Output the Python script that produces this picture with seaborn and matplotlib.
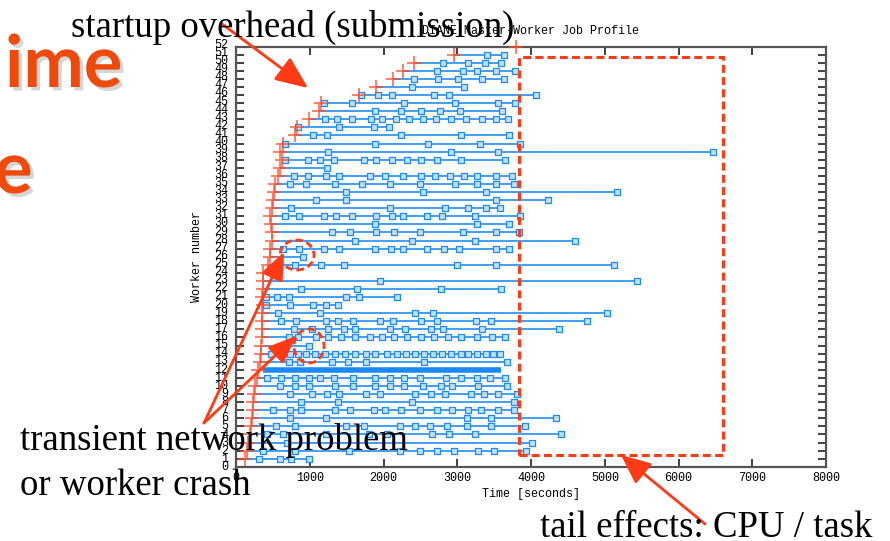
import matplotlib
matplotlib.use("Agg")
import matplotlib.pyplot as plt
import matplotlib.patheffects as pe
from matplotlib.patches import FancyArrowPatch, Ellipse, Rectangle
import numpy as np
import pandas as pd
import seaborn as sns

# ---------------- data (seconds) ----------------
# start time of each worker, rows 0..51 from bottom to top
start_times = [122, 145, 168, 190, 200, 213, 227, 236, 245, 259,
               281, 304, 327, 340, 340, 358, 358, 358, 358, 372,
               358, 372, 372, 372, 431, 463, 463, 485, 485, 476,
               463, 494, 508, 522, 531, 567, 590, 621, 600, 635,
               794, 825, 993, 1120, 1152, 1664, 1900, 2127, 2263, 2413,
               2957, 3796]

# task completion times per worker
w00 = [317, 590, 748, 993]
w01 = [363, 803, 1528, 2222, 2494, 2730, 2957, 3283, 3492, 3932]
w02 = [689, 4014]
w03 = [417, 644, 1220, 1800, 2050, 2662, 2889, 3243, 4408]
w04 = [540, 794, 1497, 1733, 2222, 2426, 2630, 2857, 3138, 3456, 3923]
w05 = [735, 1224, 3138, 3456, 4340]
w06 = [508, 735, 884, 1347, 1551, 1868, 2027, 2231, 2494, 2721, 2934, 3147, 3320, 3546, 3773]
w07 = [884, 1383, 2390, 3773]
w08 = [735, 1029, 1234, 1392, 1769, 1950, 2426, 2639, 2830, 3183, 3365, 3546, 3810]
w09 = [599, 794, 984, 1338, 1587, 1882, 2086, 2277, 2540, 2775, 2934, 3288, 3673]
w10 = [417, 612, 794, 984, 1143, 1324, 1587, 1882, 2086, 2277, 2494, 2843, 3048, 3274, 3447, 3646]
w11 = []
w11_dense_band = [372, 3592]
w12 = [712, 870, 1302, 1519, 1764, 2549, 3680]
w13 = [476, 599, 726, 839, 952, 1075, 1211, 1338, 1474, 1610, 1769, 1891, 2050, 2177, 2299,
       2422, 2549, 2676, 2798, 2921, 3048, 3152, 3274, 3388, 3478, 3583]
w14 = [993]
w15 = [712, 839, 1088, 1247, 1429, 1619, 1814, 1973, 2141, 2313, 2513, 2685, 2875, 3048, 3274, 3465, 3646]
w16 = [780, 1029, 1247, 1460, 1619, 2086, 2286, 2639, 2807, 3329, 4377]
w17 = [612, 816, 1220, 1383, 1583, 1950, 2127, 2513, 2730, 3261, 3456, 4762]
w18 = [576, 1134, 2422, 2671, 5029]
w19 = [404, 735, 1043, 1220, 1383]
w20 = [404, 553, 712, 1497, 1664, 2186]
w21 = [884, 1642, 2775, 3592]
w22 = [1950, 5437]
w23 = []
w24 = [803, 1152, 1460, 3002, 3524, 5120]
w25 = [907]
w26 = [635, 848, 1197, 1401, 1882, 2095, 2263, 2585, 2821, 3025, 3524, 3696]
w27 = [1619, 2381, 3243, 4603]
w28 = [1302, 1542, 1900, 2141, 2494, 3084, 3524, 3842]
w29 = [1882, 3274, 3696]
w30 = [658, 848, 1197, 1361, 1574, 1900, 2109, 2263, 2585, 2798, 3243, 3855]
w31 = [744, 2086, 2834, 3147, 3388, 3583]
w32 = [1084, 1492, 3524, 4230]
w33 = [1492, 2535, 3388, 5170]
w34 = [735, 948, 1338, 1710, 2086, 2490, 2966, 3274, 3524, 3773]
w35 = [780, 970, 1220, 1392, 1823, 2027, 2268, 2504, 2694, 2898, 3093, 3274, 3524, 3741]
w36 = [1234]
w37 = [658, 975, 1143, 1324, 1733, 1900, 2109, 2322, 2504, 2721, 3048, 3646]
w38 = [1247, 2912, 3547, 6462]
w39 = [658, 1891, 2608, 3311, 3855]
w40 = [1043, 1234, 2231, 3048, 3705]
w41 = [839, 1392, 1868, 2072]
w42 = [1202, 1370, 1574, 1832, 1982, 2163, 2345, 2540, 2716, 2911, 3125, 3329, 3524, 3682]
w43 = [1882, 2231, 2513, 2762, 3034, 3601]
w44 = [1188, 1574, 2277, 2966, 3546, 3787]
w45 = [1701, 1927, 2118, 2685, 2889, 4065]
w46 = [2381, 3093]
w47 = [2413, 2739, 3016, 3329, 3628]
w48 = [2721, 3079, 3274, 3524, 3787]
w49 = [2807, 3147, 3374, 3592]
w50 = [3410, 3637]
w51 = []

ytick_labels = [str(k) for k in range(53)]
xtick_values = [0, 1000, 2000, 3000, 4000, 5000, 6000, 7000, 8000]

title_text = "DIANE Master-Worker Job Profile"
xlabel_text = "Time [seconds]"
ylabel_text = "Worker number"

# ---------------- figure ----------------
sns.set_theme(style="white")
plt.rcParams["font.family"] = ["DejaVu Sans"]

W, H = 890, 541
def fx(x): return x / W
def fy(y): return 1 - y / H

fig = plt.figure(figsize=(8.9, 5.41), dpi=100)
fig.patch.set_facecolor("white")
ax = fig.add_axes([fx(236), fy(466.7), 590 / W, (466.7 - 47) / H])
ax.set_facecolor("white")

tasks = [w00, w01, w02, w03, w04, w05, w06, w07, w08, w09,
         w10, w11, w12, w13, w14, w15, w16, w17, w18, w19,
         w20, w21, w22, w23, w24, w25, w26, w27, w28, w29,
         w30, w31, w32, w33, w34, w35, w36, w37, w38, w39,
         w40, w41, w42, w43, w44, w45, w46, w47, w48, w49,
         w50, w51]
rows = np.arange(len(start_times))
ends = [max([s] + t) for s, t in zip(start_times, tasks)]

LINE = "#3196f6"
ax.hlines(rows, start_times, ends, color=LINE, lw=1.3, zorder=2)
ax.hlines([11], [w11_dense_band[0]], [w11_dense_band[1]], color="#1a8af2", lw=4.0, zorder=2)

df = pd.DataFrame([(r, t) for r, ts in enumerate(tasks) for t in ts], columns=["worker", "time"])
sns.scatterplot(data=df, x="time", y="worker", marker="s", s=15, color="#bfe0ff",
                edgecolor="#1f8cf2", linewidth=0.9, ax=ax, zorder=3, legend=False)

ax.plot(start_times, rows, ls="none", marker="+", ms=10.5, mew=1.15, color="#ff4a28",
        alpha=0.85, zorder=4, clip_on=False)

ax.set_xlim(0, 8000)
ax.set_ylim(-0.99, 50.95)
MONO = "Liberation Mono"
ax.set_xticks(xtick_values)
ax.set_xticklabels([str(v) for v in xtick_values], family=MONO, fontsize=8.5, color="black")
ax.set_yticks(rows[:51])
ax.set_yticklabels([])
ax.tick_params(axis="both", direction="in", length=5.5, width=1.3, color="#333333",
               top=True, right=True, left=True, bottom=True, pad=4)
for s in ax.spines.values():
    s.set_color("#555555")
    s.set_linewidth(1.6)

ytf = ax.get_yaxis_transform()
for k, lab in enumerate(ytick_labels):
    ax.text(-0.0135, k - 1.03 + 0.005 * k, lab, transform=ytf, ha="right", va="center",
            family=MONO, fontsize=8.5, color="black", clip_on=False)

ax.set_title(title_text, family=MONO, fontsize=8.5, pad=9, color="black")
ax.set_xlabel(xlabel_text, family=MONO, fontsize=8.5, labelpad=3, color="black")
ax.set_ylabel(ylabel_text, family=MONO, fontsize=8.5, color="black")
ax.yaxis.set_label_coords(-0.056, 0.5)

# ---------------- slide overlays ----------------
RED = "#ff3a14"
SERIF = "Liberation Serif"
fig.text(fx(71), fy(37), "startup overhead (submission)", family=SERIF, fontsize=26.5,
         color="black", va="baseline", ha="left")
fig.text(fx(20), fy(450), "transient network problem", family=SERIF, fontsize=26.5,
         color="black", va="baseline", ha="left")
fig.text(fx(20), fy(495), "or worker crash", family=SERIF, fontsize=26.5,
         color="black", va="baseline", ha="left")
fig.text(fx(540), fy(537), "tail effects: CPU / task", family=SERIF, fontsize=26.5,
         color="black", va="baseline", ha="left")

shadow = [pe.withSimplePatchShadow(offset=(2.5, -2.5), shadow_rgbFace="#bbbbbb", alpha=0.6)]
fig.text(fx(5), fy(87), "ime", family="Lato", fontweight="bold", fontsize=52,
         color="#ee4a0c", va="baseline", ha="left", path_effects=shadow)
fig.text(fx(-6), fy(193), "e", family="Lato", fontweight="bold", fontsize=52,
         color="#ee4a0c", va="baseline", ha="left", path_effects=shadow)

def arrow(x0, y0, x1, y1, hl, hw):
    a = FancyArrowPatch((fx(x0), fy(y0)), (fx(x1), fy(y1)), transform=fig.transFigure,
                        arrowstyle=f"-|>,head_length={hl},head_width={hw}", mutation_scale=1,
                        color=RED, lw=2.0, shrinkA=0, shrinkB=0)
    fig.add_artist(a)

arrow(222, 24, 308, 88, 20, 8.5)
arrow(204, 423, 284, 252, 17, 7)
arrow(204, 423, 296, 336, 17, 7)
arrow(705, 524, 621, 455, 18, 8)

dash = (0, (2.6, 1.4))
fig.add_artist(Rectangle((fx(519), fy(455)), (723 - 519) / W, (455 - 57) / H,
                         transform=fig.transFigure, fill=False, ec=RED, lw=2.2, ls=dash))
fig.add_artist(Ellipse((fx(297), fy(255)), 34 / W, 30 / H, transform=fig.transFigure,
                       fill=False, ec=RED, lw=2.0, ls=dash))
fig.add_artist(Ellipse((fx(309), fy(346)), 30 / W, 34 / H, transform=fig.transFigure,
                       fill=False, ec=RED, lw=2.0, ls=dash))

fig.savefig("out.png", dpi=100)
